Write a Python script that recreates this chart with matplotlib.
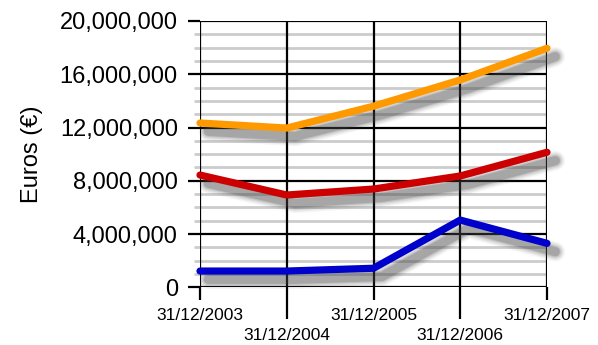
import matplotlib
matplotlib.use("Agg")
import matplotlib.pyplot as plt
import matplotlib.patheffects as pe
from matplotlib.ticker import FuncFormatter, MultipleLocator, FixedLocator

dates = ["31/12/2003", "31/12/2004", "31/12/2005", "31/12/2006", "31/12/2007"]
orange_vals = [12340000, 11960000, 13600000, 15570000, 17950000]
red_vals = [8430000, 6930000, 7380000, 8360000, 10140000]
blue_vals = [1220000, 1220000, 1430000, 5050000, 3300000]

series = [
    (orange_vals, "#ff9900"),
    (red_vals, "#cc0000"),
    (blue_vals, "#0000cc"),
]

plt.rcParams["font.family"] = ["Liberation Sans", "DejaVu Sans"]

fig = plt.figure(figsize=(5.98, 3.45), dpi=100)
ax = fig.add_axes([200 / 598, 1 - 287.3 / 345, 347 / 598, 266.3 / 345])

x = list(range(len(dates)))
ymax = 20000000

# grid: light minor lines below, black major lines above them
for v in range(1000000, ymax, 1000000):
    if v % 4000000:
        ax.axhline(v, color="#cccccc", lw=2.0, zorder=1)
for v in range(0, ymax + 1, 4000000):
    ax.axhline(v, color="black", lw=1.6, zorder=2)
for xi in x:
    ax.axvline(xi, color="black", lw=1.6, zorder=2)

# soft blurred drop shadow built from stacked translucent strokes
shadow = []
for lw, a in [(14, 0.05), (12, 0.08), (10, 0.11), (8, 0.15), (6.5, 0.2)]:
    shadow.append(pe.SimpleLineShadow(offset=(6, -6), shadow_color="#444444",
                                      alpha=a, rho=1.0, linewidth=lw))
shadow.append(pe.Normal())

for vals, color in series:
    ax.plot(x, vals, color=color, lw=5.2, solid_capstyle="round",
            solid_joinstyle="round", zorder=5, path_effects=shadow,
            clip_on=False)

ax.set_xlim(0, 4)
ax.set_ylim(0, ymax)

# y axis: major every 4M, minor every 1M
ax.yaxis.set_major_locator(MultipleLocator(4000000))
ax.yaxis.set_minor_locator(MultipleLocator(1000000))
ax.yaxis.set_major_formatter(FuncFormatter(lambda v, p: f"{int(v):,}"))
ax.tick_params(axis="y", which="major", length=9, width=1.6, pad=7,
               labelsize=17, color="black")
ax.tick_params(axis="y", which="minor", length=4.5, width=2.0, color="#cccccc")

# x axis: staggered labels via major/minor ticks with different lengths
ax.xaxis.set_major_locator(FixedLocator([0, 2, 4]))
ax.xaxis.set_minor_locator(FixedLocator([1, 3]))
ax.set_xticklabels([dates[i] for i in (0, 2, 4)])
ax.set_xticklabels([dates[i] for i in (1, 3)], minor=True)
ax.tick_params(axis="x", which="major", length=9, width=1.6, pad=6,
               labelsize=12.5, color="black")
ax.tick_params(axis="x", which="minor", length=23, width=1.6, pad=6,
               labelsize=12.5, color="black")

for s in ax.spines.values():
    s.set_visible(False)

ax.set_ylabel("Euros (\u20ac)", fontsize=17, labelpad=12)

fig.savefig("out.png", dpi=100)
